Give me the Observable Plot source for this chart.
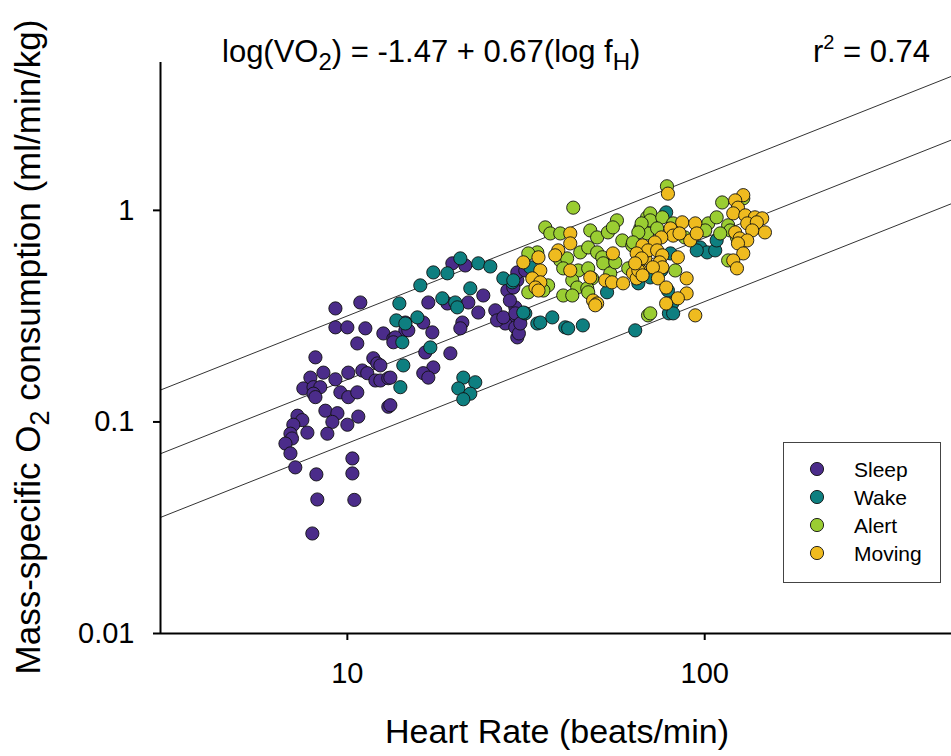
<!DOCTYPE html>
<html><head><meta charset="utf-8">
<script src="https://cdn.jsdelivr.net/npm/d3@7"></script>
<script src="https://cdn.jsdelivr.net/npm/@observablehq/plot@0.6"></script>
<style>html,body{margin:0;padding:0;background:#fff;overflow:hidden}</style>
</head><body><div id="chart"></div><script>
// ---- data: [heart rate (beats/min), mass-specific VO2 (ml/min/kg)] ----
const categories = ["Sleep", "Wake", "Alert", "Moving"];
const colors = ["#4b2c8a", "#0e7f80", "#9acd32", "#efbb1f"];

const sleep = [
 [9.26,0.344],[10.87,0.367],[9.26,0.280],[10.0,0.280],[11.23,0.277],[10.66,0.235],[8.14,0.202],
 [12.61,0.262],[13.45,0.248],[14.53,0.271],[11.82,0.200],[12.13,0.189],[8.57,0.171],[7.88,0.162],
 [9.26,0.159],[10.06,0.171],[11.01,0.175],[11.37,0.170],[11.98,0.157],[12.37,0.157],[13.02,0.161],
 [7.53,0.144],[8.04,0.146],[8.40,0.146],[8.04,0.136],[9.56,0.138],[10.06,0.131],[10.66,0.138],
 [8.14,0.131],[13.02,0.118],[8.68,0.113],[9.38,0.110],[7.25,0.107],[7.48,0.102],[10.73,0.106],
 [9.08,0.100],[10.0,0.097],[7.06,0.097],[7.73,0.089],[6.93,0.088],[8.79,0.088],[7.0,0.0835],
 [6.71,0.079],[6.93,0.071],[7.15,0.061],[10.33,0.0672],[10.33,0.0571],[8.19,0.0565],[8.24,0.043],
 [10.46,0.0428],[7.98,0.0297],
 [19.67,0.562],[21.38,0.549],[16.85,0.367],[24.01,0.396],[21.8,0.367],[23.25,0.329],[19.05,0.363],
 [25.94,0.337],[28.94,0.432],[28.04,0.418],[29.89,0.467],[29.51,0.348],[30.48,0.312],[29.13,0.302],
 [27.67,0.292],[26.24,0.302],[29.89,0.251],[20.98,0.295],[20.71,0.277],[17.29,0.265],[16.31,0.295],
 [16.52,0.213],[19.42,0.211],[17.4,0.181],[16.31,0.170],[16.85,0.162],[13.19,0.120],[13.19,0.162],
 [12.37,0.185],[13.62,0.251],[13.45,0.238],[14.81,0.271],[14.53,0.295],
 [29.89,0.509],[31.47,0.520],[29.13,0.432],[28.5,0.375],[27.32,0.312],[29.51,0.326],[29.51,0.280],
 [30.2,0.262],[30.48,0.292]
];

const wake = [
 [13.98,0.363],[13.71,0.302],[14.53,0.292],[14.25,0.238],[14.34,0.185],[14.07,0.146],[15.7,0.312],
 [16.0,0.442],[17.4,0.509],[19.05,0.504],[20.71,0.593],[23.25,0.562],[25.12,0.543],[18.44,0.384],
 [20.04,0.367],[20.3,0.348],[22.08,0.428],[17.07,0.225],[21.11,0.162],[22.8,0.154],[20.44,0.144],
 [22.08,0.136],[21.11,0.128],[28.94,0.457],[31.47,0.326],[34.0,0.292],
 [27.32,0.477],[29.13,0.467],[32.5,0.538],[31.07,0.329],[34.67,0.295],[37.45,0.312],[40.71,0.280],
 [41.48,0.277],[45.6,0.286],[53.3,0.410],[63.9,0.271],[65.2,0.452],
 [78.0,0.978],[97.1,0.668],[101.6,0.633],[107,0.647],[108,0.721],[95.0,0.647],[80.2,0.626],
 [75.6,0.520],[70.4,0.482],[78.9,0.418],[81.1,0.363],[79.4,0.326],[81.6,0.326]
];

const alert = [
 [42.87,1.03],[35.79,0.831],[36.97,0.778],[39.42,0.778],[47.83,0.804],[50.0,0.745],[53.6,0.787],
 [56.8,0.897],[55.35,0.831],[58.8,0.721],[62.7,0.683],[66.0,0.822],[69.0,0.927],[69.0,0.778],
 [44.85,0.633],[47.2,0.668],[50.0,0.633],[51.67,0.600],[34.0,0.633],[39.42,0.580],[41.2,0.593],
 [40.19,0.532],[44.27,0.520],[47.2,0.532],[48.4,0.477],[52.0,0.562],[54.4,0.504],[56.2,0.568],
 [61.1,0.532],[42.6,0.467],[43.99,0.432],[40.19,0.396],[42.6,0.396],[46.92,0.428],[47.2,0.410],
 [36.45,0.442],[32.09,0.410],[35.36,0.418],[69.4,0.319],[32.09,0.626],
 [78.4,1.30],[70.4,0.968],[70.4,0.897],[66.6,0.868],[76.1,0.927],[73.6,0.822],[65.2,0.787],
 [63.0,0.706],[81.6,0.868],[88.0,0.745],[102.3,0.868],[108,0.927],[111.9,1.09],[116.3,0.85],
 [117.9,0.804],[123.1,0.745],[110.5,0.778],[116.3,0.580],[128.2,1.14],[70.4,0.326],[82.7,0.520],
 [100.3,0.804]
];

const moving = [
 [42.05,0.778],[42.05,0.698],[38.92,0.647],[38.17,0.613],[34.26,0.600],[31.07,0.568],[34.67,0.520],
 [32.93,0.477],[34.67,0.457],[33.6,0.432],[34.26,0.418],[42.05,0.520],[47.83,0.482],[52.7,0.467],
 [55.0,0.457],[55.35,0.626],[59.1,0.452],[48.7,0.375],[50.0,0.363],[49.39,0.356],[63.0,0.504],
 [64.5,0.562],[66.0,0.520],[68.2,0.593],[69.0,0.647],[64.5,0.477],
 [78.9,1.20],[128.2,1.18],[121.7,1.115],[123.9,1.03],[120.2,0.968],[129.9,0.947],[138.2,0.927],
 [144.8,0.917],[131.5,0.868],[139.9,0.878],[121.7,0.787],[147.4,0.787],[135.8,0.804],[125.3,0.737],
 [131.5,0.721],[123.9,0.698],[128.2,0.626],[120.2,0.580],[123.1,0.532],[86.5,0.878],[80.2,0.822],
 [91.1,0.721],[94.1,0.868],[95.0,0.778],[81.6,0.760],[85.0,0.778],[75.6,0.745],[72.5,0.706],
 [67.0,0.683],[69.4,0.647],[64.5,0.626],[66.6,0.593],[73.6,0.647],[76.1,0.613],[74.8,0.568],
 [76.1,0.538],[71.6,0.538],[65.2,0.520],[67.0,0.493],[84.1,0.600],[74.0,0.477],[89.0,0.477],
 [78.0,0.432],[89.0,0.405],[84.1,0.384],[78.0,0.363],[94.1,0.319],[63.9,0.562]
];

// regression shown on chart: log(VO2) = -1.47 + 0.67 log(fH), with 2x bands
const intercept = -1.47, slope = 0.67;
const bandFactors = [0.5, 1, 2];
const lineHR = [3, 500];
const xTicks = [10, 100];
const yTicks = [0.01, 0.1, 1];

// ---- build tables ----
const groups = [sleep, wake, alert, moving];
const points = groups.flatMap((g, i) => g.map(([hr, vo2]) => ({hr, vo2, state: categories[i]})));
const lines = bandFactors.flatMap(f => lineHR.map(hr => ({f, hr, vo2: f * Math.pow(10, intercept + slope * Math.log10(hr))})));

const FONT = "'Liberation Sans', Arial, Helvetica, sans-serif";

const plot = Plot.plot({
  width: 951, height: 756,
  marginTop: 62, marginBottom: 123, marginLeft: 160, marginRight: 0,
  style: {fontFamily: FONT, background: "#fff", color: "#000"},
  x: {type: "log", domain: [3, 500], range: [160, 954]},
  y: {type: "log", domain: [0.01, 5]},
  color: {domain: categories, range: colors},
  marks: [
    Plot.line(lines, {x: "hr", y: "vo2", z: "f", stroke: "#333", strokeWidth: 1}),
    Plot.dot(points, {x: "hr", y: "vo2", fill: "state", r: 6.6, stroke: "#111", strokeWidth: 0.9}),
    Plot.axisY({ticks: yTicks, tickFormat: d => String(d), fontSize: 29, tickSize: 7, tickPadding: 19, strokeWidth: 2, label: null}),
    Plot.axisX({ticks: xTicks, tickFormat: d => String(d), fontSize: 29, tickSize: 7, tickPadding: 22, strokeWidth: 2, label: null}),
    Plot.ruleX([3], {strokeWidth: 2}),
    Plot.ruleY([0.01], {strokeWidth: 2})
  ]
});
document.getElementById("chart").appendChild(plot);

const svg = d3.select(plot);
// equation title
const t = svg.append("text").attr("x", 222).attr("y", 62).attr("text-anchor", "start").attr("font-family", FONT).attr("font-size", 31).attr("fill", "#000");
t.append("tspan").text("log(VO");
t.append("tspan").attr("dy", 8).attr("font-size", 24).text("2");
t.append("tspan").attr("dy", -8).text(") = -1.47 + 0.67(log f");
t.append("tspan").attr("dy", 8).attr("font-size", 24).text("H");
t.append("tspan").attr("dy", -8).text(")");
// r^2
const r = svg.append("text").attr("x", 930).attr("y", 62).attr("text-anchor", "end").attr("font-family", FONT).attr("font-size", 31).attr("fill", "#000");
r.append("tspan").text("r");
r.append("tspan").attr("dy", -13).attr("font-size", 20).text("2");
r.append("tspan").attr("dy", 13).text(" = 0.74");
// axis titles
svg.append("text").attr("x", 557).attr("y", 743).attr("text-anchor", "middle").attr("font-family", FONT).attr("font-size", 34).attr("fill", "#000").text("Heart Rate (beats/min)");
const yl = svg.append("text").attr("transform", "translate(40,347) rotate(-90)").attr("text-anchor", "middle").attr("font-family", FONT).attr("font-size", 35).attr("fill", "#000");
yl.append("tspan").text("Mass-specific O");
yl.append("tspan").attr("dy", 9).attr("font-size", 27).text("2");
yl.append("tspan").attr("dy", -9).text(" consumption (ml/min/kg)");
// legend
const lg = svg.append("g");
lg.append("rect").attr("x", 783.5).attr("y", 442.5).attr("width", 157).attr("height", 140).attr("fill", "#fff").attr("stroke", "#444").attr("stroke-width", 1);
categories.forEach((c, i) => {
  const cy = 469 + i * 28;
  lg.append("circle").attr("cx", 817).attr("cy", cy).attr("r", 6.6).attr("fill", colors[i]).attr("stroke", "#111").attr("stroke-width", 0.9);
  lg.append("text").attr("x", 854).attr("y", cy).attr("dy", "0.36em").attr("text-anchor", "start").attr("font-family", FONT).attr("font-size", 21).attr("fill", "#000").text(c);
});
</script></body></html>
